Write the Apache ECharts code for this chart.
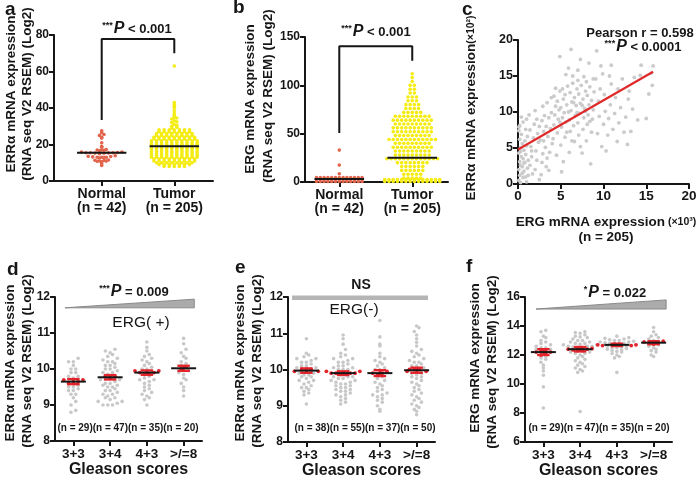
<!DOCTYPE html>
<html>
<head>
<meta charset="utf-8">
<script src="https://cdn.jsdelivr.net/npm/echarts@6.0.0/dist/echarts.min.js"></script>
<style>html,body{margin:0;padding:0;background:#fff;}#chart{width:700px;height:480px;}</style>
</head>
<body>
<div id="chart"></div>
<script>
// ---------------- DATA ----------------
const catsAB = ['Normal', 'Tumor'];
const nAB = ['(n = 42)', '(n = 205)'];

// Panel a: ERRα mRNA (Normal vs Tumor)
const aNormal = [27.5, 26.5, 25.5, 25, 24, 23.5, 21, 19, 18.5,
  17, 17, 17.2, 16.8, 16.6,
  15.5, 15.5, 15.5, 15.8, 15.2, 15.4, 15.6, 15.0, 15.9, 15.3,
  13, 13, 13, 13.5, 13.2, 12.8, 12.6, 13.4, 13.8,
  11, 11.2, 10.8, 11.5, 10.5, 11.4, 10.9,
  9.5, 8.5];
const aTumor = [63, 43, 42, 41, 40, 38.5, 37, 36, 35, 34.5, 34, 33, 32.5, 32, 31, 30.5, 30, 29.5, 29,
  28, 28, 28, 28, 28, 28, 28,
  27, 27, 27, 27, 27, 27, 27,
  26, 26, 26, 26, 26, 26, 26, 26,
  25, 25, 25, 25, 25, 25, 25, 25,
  24, 24, 24, 24, 24, 24, 24, 24, 24,
  23, 23, 23, 23, 23, 23, 23, 23, 23,
  22, 22, 22, 22, 22, 22, 22, 22, 22, 22,
  21, 21, 21, 21, 21, 21, 21, 21, 21, 21,
  20, 20, 20, 20, 20, 20, 20, 20, 20, 20,
  19, 19, 19, 19, 19, 19, 19, 19, 19, 19,
  18, 18, 18, 18, 18, 18, 18, 18, 18, 18,
  17, 17, 17, 17, 17, 17, 17, 17, 17, 17,
  16, 16, 16, 16, 16, 16, 16, 16, 16, 16,
  15, 15, 15, 15, 15, 15, 15, 15, 15, 15,
  14, 14, 14, 14, 14, 14, 14, 14, 14, 14,
  13, 13, 13, 13, 13, 13, 13, 13, 13, 13,
  12, 12, 12, 12, 12, 12, 12, 12, 12,
  11, 11, 11, 11, 11, 11, 11, 11, 11,
  10, 10, 10, 10, 10, 10, 10, 10,
  9, 9, 9, 9, 9, 9, 9,
  8, 8, 8, 8, 8];
const aMeans = [15.5, 19];
const aBracket = [[0, 33.4], [0, 77.8], [1, 77.8], [1, 70]];

// Panel b: ERG mRNA (Normal vs Tumor)
const bNormal = [33, 17.5, 8.5,
  4.5, 4.5, 4.5, 4.5, 4.5, 4.5, 4.5, 4.5, 4.5, 4.5, 4.5, 4.5, 4.5,
  2.5, 2.5, 2.5, 2.5, 2.5, 2.5, 2.5, 2.5, 2.5, 2.5, 2.5, 2.5, 2.5,
  0.5, 0.5, 0.5, 0.5, 0.5, 0.5, 0.5, 0.5, 0.5, 0.5, 0.5, 0.5, 0.5];
const bTumor = [112, 108, 104, 100, 100, 96, 96, 92, 92, 88, 88, 88, 84, 84, 84,
  80, 80, 80, 80, 76, 76, 76, 76, 72, 72, 72, 72, 72,
  68, 68, 68, 68, 68, 68, 68, 68, 68,
  64, 64, 64, 64, 64, 64, 64, 64, 64, 64,
  60, 60, 60, 60, 60, 60, 60, 60, 60,
  56, 56, 56, 56, 56, 56, 56, 56, 56, 56,
  52, 52, 52, 52, 52, 52, 52, 52, 52, 52,
  48, 48, 48, 48, 48, 48, 48, 48, 48,
  44, 44, 44, 44, 44, 44, 44, 44, 44, 44, 44, 44,
  40, 40, 40, 40, 40, 40, 40, 40, 40,
  36, 36, 36, 36, 36, 36, 36, 36, 36, 36,
  32, 32, 32, 32, 32, 32, 32, 32, 32,
  28, 28, 28, 28, 28, 28, 28, 28, 28,
  24, 24, 24, 24, 24, 24, 24, 24, 24, 24, 24, 24, 24,
  20, 20, 20, 20, 20, 20, 20, 20,
  16, 16, 16, 16, 16, 16,
  12, 12, 12, 12, 12, 12,
  8, 8, 8, 8, 8,
  4, 4, 4, 4, 4,
  2.5, 2.5, 2.5, 2.5, 2.5, 2.5, 2.5, 2.5, 2.5, 2.5, 2.5, 2.5, 2.5, 2.5,
  0.5, 0.5, 0.5, 0.5, 0.5, 0.5, 0.5, 0.5, 0.5, 0.5, 0.5, 0.5, 0.5, 0.5];
const bMeans = [3, 25];
const bBracket = [[0, 50.7], [0, 140.5], [1, 140.5], [1, 125.4]];

// Panel c: correlation (ERG ×10³ vs ERRα ×10²)
const cERG = [0.1,0.2,0.1,0.3,0.2,0.4,0.1,0.3,0.5,0.2,0.4,0.1,0.6,0.7,0.5,0.8,0.6,0.9,0.7,1.0,0.8,1.1,0.9,1.2,1.1,1.2,1.0,0.3,0.5,0.2,0.6,0.4,0.1,0.3,0.7,0.9,
  1.4,1.6,1.5,1.8,1.4,1.9,2.0,2.2,2.1,2.4,2.3,2.5,2.2,2.7,2.8,2.9,2.6,3.0,2.8,3.1,3.3,3.4,3.2,3.5,3.3,3.6,3.7,3.8,3.9,1.7,2.5,3.6,4.0,1.3,1.0,2.0,2.9,3.4,3.0,1.6,
  4.1,4.2,4.3,4.4,4.2,4.6,4.7,4.8,4.6,4.9,5.0,5.1,5.2,5.0,5.3,5.2,5.5,5.6,5.4,5.7,5.5,5.8,6.0,6.1,6.0,6.2,6.3,6.1,6.4,6.6,6.5,6.7,6.8,6.6,6.9,7.1,7.0,7.2,7.3,7.1,7.4,7.5,7.6,7.7,7.8,7.6,7.9,8.0,8.1,8.2,8.3,8.1,8.4,8.5,8.6,8.7,8.8,8.6,8.9,4.5,5.3,5.1,6.3,7.3,7.9,6.9,5.9,4.9,8.4,6.5,7.5,5.7,4.4,3.9,7.0,
  6.2,4.9,7.3,8.3,9.2,9.7,7.0,5.6,6.4,8.8,8.0,10.9,5.9,7.7,
  9.3,9.5,9.4,9.6,9.8,10.0,10.2,10.1,10.3,10.5,10.6,10.8,10.9,11.1,11.3,11.4,11.6,11.8,12.0,12.2,12.4,12.6,12.9,13.2,13.4,13.6,14.0,14.3,14.4,15.0,15.3,15.6,15.7,15.8,9.1,11.7,12.8,10.7,13.0,9.9];
const cERRa = [0.5,1.2,2.0,2.6,3.1,3.8,4.3,5.0,5.6,6.2,6.9,7.4,0.9,1.8,2.4,3.0,3.5,4.1,4.7,5.3,6.0,6.6,7.6,1.2,2.2,3.3,0.3,0.2,1.5,8.1,8.6,9.3,7.9,4.5,2.9,1.0,
  2.6,3.8,5.2,6.4,7.5,8.3,2.0,3.3,4.6,5.8,7.0,8.0,9.0,1.3,3.0,4.2,6.1,7.3,8.8,9.5,2.4,3.6,5.1,6.6,8.0,9.2,4.4,7.7,9.9,1.4,0.6,1.9,5.6,9.6,9.0,10.2,10.8,11.3,6.0,4.6,
  6.3,8.2,9.6,10.8,12.2,7.1,9.0,10.3,11.5,12.9,5.4,7.9,9.2,10.6,11.8,13.2,6.5,8.6,9.9,11.0,12.4,13.6,4.4,7.3,8.9,10.2,11.4,12.7,14.0,5.9,8.1,9.5,10.9,12.0,13.2,6.8,8.5,9.8,11.2,12.5,13.7,4.3,7.6,9.2,10.5,11.8,12.9,6.0,8.3,9.6,11.0,12.3,13.5,2.8,7.2,9.0,10.3,11.6,12.8,4.0,3.1,1.7,6.0,5.2,10.1,9.9,10.0,8.6,8.7,11.3,10.9,7.2,13.3,12.0,14.4,
  18.7,17.7,17.3,16.8,18.5,16.4,15.8,15.2,15.0,14.6,14.2,16.5,16.1,14.9,
  7.0,9.4,11.5,13.2,5.2,8.3,10.1,12.4,4.6,6.8,9.1,11.0,13.9,7.6,9.8,12.0,5.9,8.5,10.6,14.6,7.2,9.3,11.8,7.3,10.4,14.8,8.9,15.1,16.5,9.1,12.5,15.4,13.7,16.4,14.6,13.2,5.5,15.0,12.9,15.3];
const cFit = [[0, 4.8], [15.8, 15.6]];

// Panels d, e, f: Gleason score groups
const gleason = ['3+3', '3+4', '4+3', '>/=8'];
const dNs = '(n = 29)(n = 47)(n = 35)(n = 20)';
const eNs = '(n = 38)(n = 55)(n = 37)(n = 50)';
const fNs = '(n = 29)(n = 47)(n = 35)(n = 20)';

// d: ERRα, ERG(+)
const d33 = [10.3,10.2,10.2,10.1,10.0,10.0,9.9,9.9,9.8,9.8,9.75,9.7,9.7,9.65,9.6,9.6,9.55,9.5,9.5,9.45,9.4,9.4,9.3,9.3,9.2,9.1,9.0,8.85,8.8];
const d34 = [10.55,10.5,10.45,10.4,10.35,10.3,10.25,10.2,10.2,10.15,10.1,10.1,10.05,10.0,10.0,9.95,9.9,9.9,9.85,9.8,9.8,9.75,9.7,9.7,9.65,9.6,9.6,9.55,9.5,9.5,9.45,9.4,9.4,9.35,9.3,9.3,9.25,9.2,9.2,9.15,9.1,9.1,9.05,9.0,9.0,9.0,9.55];
const d43 = [10.75,10.6,10.5,10.4,10.35,10.3,10.25,10.2,10.15,10.1,10.05,10.0,10.0,9.95,9.9,9.9,9.85,9.85,9.8,9.75,9.7,9.7,9.65,9.6,9.55,9.5,9.45,9.4,9.35,9.3,9.25,9.2,9.15,9.0,9.95];
const d8 = [10.85,10.7,10.55,10.45,10.35,10.3,10.2,10.15,10.1,10.05,10.0,9.95,9.9,9.85,9.75,9.7,9.6,9.5,9.4,9.25];
const dMeans = [9.65, 9.77, 9.9, 10.02];
const dSem = [0.07, 0.06, 0.06, 0.07];
const dWedge = [[-0.23, 11.7], [3.29, 11.94], [3.29, 11.7]];

// e: ERRα, ERG(-)
const e33 = [10.85,10.45,10.4,10.35,10.3,10.3,10.25,10.2,10.2,10.15,10.1,10.1,10.05,10.05,10.0,10.0,10.0,9.95,9.95,9.9,9.9,9.85,9.85,9.8,9.8,9.75,9.7,9.7,9.65,9.6,9.55,9.5,9.5,9.45,9.4,9.35,9.3,9.05];
const e34 = [10.95,10.85,10.7,10.55,10.45,10.4,10.35,10.3,10.3,10.25,10.2,10.2,10.15,10.1,10.1,10.05,10.05,10.0,10.0,10.0,9.95,9.95,9.9,9.9,9.9,9.85,9.85,9.8,9.8,9.8,9.75,9.75,9.7,9.7,9.65,9.65,9.6,9.6,9.55,9.55,9.5,9.5,9.45,9.45,9.4,9.4,9.35,9.3,9.3,9.25,9.2,9.15,9.1,9.05,9.9];
const e43 = [11.35,10.9,10.7,10.65,10.45,10.35,10.3,10.25,10.2,10.15,10.1,10.05,10.0,10.0,9.95,9.9,9.9,9.85,9.8,9.75,9.7,9.65,9.6,9.55,9.5,9.45,9.4,9.35,9.3,9.3,9.25,9.2,9.15,9.1,9.0,8.9,8.85];
const e8 = [11.2,11.15,11.05,10.95,10.85,10.75,10.65,10.55,10.5,10.45,10.4,10.35,10.3,10.25,10.2,10.2,10.15,10.1,10.1,10.05,10.0,10.0,9.95,9.95,9.9,9.9,9.85,9.8,9.8,9.75,9.7,9.65,9.6,9.55,9.5,9.45,9.4,9.35,9.3,9.25,9.2,9.15,9.1,9.05,9.0,8.95,8.9,8.85,8.75,10.0];
const eMeans = [9.97, 9.9, 9.9, 9.98];
const eSem = [0.06, 0.05, 0.08, 0.07];
const eBar = [[-0.39, 11.98], [3.31, 11.98]];

// f: ERG mRNA
const f33 = [13.7,13.6,13.3,13.2,13.0,12.9,12.8,12.7,12.6,12.5,12.4,12.4,12.3,12.3,12.2,12.2,12.1,12.0,11.9,11.8,11.7,11.5,11.3,11.1,10.9,10.6,9.8,8.35,12.5];
const f34 = [13.6,13.55,13.5,13.4,13.3,13.25,13.2,13.1,13.0,13.0,12.9,12.9,12.8,12.8,12.75,12.7,12.7,12.6,12.6,12.55,12.5,12.5,12.45,12.4,12.4,12.35,12.3,12.3,12.2,12.2,12.1,12.1,12.0,11.9,11.8,11.7,11.6,11.5,11.4,11.3,11.2,11.1,11.0,10.9,10.8,8.1,12.6];
const f43 = [13.3,13.2,13.15,13.1,13.05,13.0,13.0,12.95,12.9,12.9,12.85,12.8,12.8,12.75,12.7,12.7,12.65,12.6,12.6,12.55,12.5,12.5,12.45,12.4,12.35,12.3,12.25,12.2,12.1,12.0,11.9,11.8,10.8,12.75,12.65];
const f8 = [13.9,13.6,13.4,13.3,13.2,13.1,13.0,12.95,12.9,12.85,12.8,12.75,12.7,12.6,12.5,12.4,12.3,12.2,12.0,11.9];
const fMeans = [12.2, 12.4, 12.7, 12.85];
const fSem = [0.2, 0.15, 0.08, 0.1];
const fWedge = [[-0.2, 15.17], [3.34, 15.8], [3.34, 15.17]];

// ---------------- LAYOUT HELPERS ----------------
const FONT = "'Liberation Sans', Arial, Helvetica, sans-serif";
const INK = '#161616';
const RED = '#e3242b';

// Beeswarm layout: bin values by height, spread each bin sideways around the category.
function swarm(vals, cat, bin, dx) {
  const sorted = vals.slice().sort((a, b) => a - b);
  const bins = new Map();
  sorted.forEach(v => {
    const k = Math.floor(v / bin + 1e-9);
    if (!bins.has(k)) bins.set(k, []);
    bins.get(k).push(v);
  });
  const out = [];
  bins.forEach(arr => {
    const n = arr.length;
    const slots = [];
    for (let j = 0; j < n; j++) slots.push(j - (n - 1) / 2);
    slots.sort((p, q) => Math.abs(p) - Math.abs(q) || p - q);
    arr.forEach((v, j) => out.push([cat + slots[j] * dx, v]));
  });
  return out;
}

const grids = [
  {left: 54, top: 35, width: 159, height: 146},
  {left: 305, top: 37, width: 143, height: 145},
  {left: 518, top: 40, width: 171, height: 144},
  {left: 55, top: 297, width: 147, height: 144},
  {left: 288, top: 297, width: 147, height: 145},
  {left: 525, top: 297, width: 147, height: 145}
];

function catX(gi, min, max, fmt, fontSize, margin, lineHeight, name) {
  const vals = [];
  for (let i = Math.ceil(min); i <= Math.floor(max); i++) vals.push(i);
  const ax = {
    gridIndex: gi, type: 'value', min: min, max: max,
    axisLine: {show: true, onZero: false, lineStyle: {color: INK, width: 2}},
    axisTick: {show: true, customValues: vals, length: 5, lineStyle: {color: INK, width: 2}},
    axisLabel: {show: true, customValues: vals, formatter: fmt, color: INK, fontFamily: FONT,
      fontWeight: 'bold', fontSize: fontSize, margin: margin, lineHeight: lineHeight},
    splitLine: {show: false}
  };
  if (name) {
    ax.name = name; ax.nameLocation = 'middle'; ax.nameGap = 21;
    ax.nameTextStyle = {color: INK, fontFamily: FONT, fontWeight: 'bold', fontSize: 16};
  }
  return ax;
}
function yAx(gi, min, max, interval, fs) {
  return {
    gridIndex: gi, type: 'value', min: min, max: max, interval: interval,
    axisLine: {show: true, onZero: false, lineStyle: {color: INK, width: 2}},
    axisTick: {show: true, length: 5, lineStyle: {color: INK, width: 2}},
    axisLabel: {color: INK, fontFamily: FONT, fontWeight: 'bold', fontSize: fs || 12, margin: 5},
    splitLine: {show: false}
  };
}
function dots(gi, pts, color, size, z) {
  return {type: 'scatter', xAxisIndex: gi, yAxisIndex: gi, data: pts, symbolSize: size,
    itemStyle: {color: color, opacity: 1}, silent: true, z: z || 2};
}
function meanLines(gi, means, half) {
  return {type: 'custom', xAxisIndex: gi, yAxisIndex: gi, z: 6, silent: true,
    data: means.map((m, i) => [i, m]),
    renderItem: (params, api) => {
      const i = api.value(0), m = api.value(1);
      const p1 = api.coord([i - half, m]), p2 = api.coord([i + half, m]);
      return {type: 'line', shape: {x1: p1[0], y1: p1[1], x2: p2[0], y2: p2[1]},
        style: {stroke: INK, lineWidth: 2}};
    }};
}
// red mean ± SEM bars with caps
function errBars(gi, means, sems, capHalf) {
  return {type: 'custom', xAxisIndex: gi, yAxisIndex: gi, z: 5, silent: true,
    data: means.map((m, i) => [i, m, sems[i]]),
    renderItem: (params, api) => {
      const i = api.value(0), m = api.value(1), s = api.value(2);
      const top = api.coord([i, m + s]), bot = api.coord([i, m - s]);
      const tl = api.coord([i - capHalf, m + s]), tr = api.coord([i + capHalf, m + s]);
      const bl = api.coord([i - capHalf, m - s]), br = api.coord([i + capHalf, m - s]);
      const st = {stroke: RED, lineWidth: 2.4};
      return {type: 'group', children: [
        {type: 'line', shape: {x1: top[0], y1: top[1], x2: bot[0], y2: bot[1]}, style: st},
        {type: 'line', shape: {x1: tl[0], y1: tl[1], x2: tr[0], y2: tr[1]}, style: st},
        {type: 'line', shape: {x1: bl[0], y1: bl[1], x2: br[0], y2: br[1]}, style: st}
      ]};
    }};
}
function polyLine(gi, pts, color, width, z) {
  return {type: 'line', xAxisIndex: gi, yAxisIndex: gi, data: pts, symbol: 'none', silent: true,
    lineStyle: {color: color, width: width}, z: z || 4, animation: false};
}
function wedge(gi, pts) {
  return {type: 'custom', xAxisIndex: gi, yAxisIndex: gi, z: 4, silent: true,
    data: [pts[0]],
    renderItem: (params, api) => ({type: 'polygon', shape: {points: pts.map(p => api.coord(p))},
      style: {fill: '#ababab', stroke: '#8a8a8a', lineWidth: 1}})};
}
// gleason groups: gray dots, with dots lying within mean ± SEM in red
function groupSeries(gi, groups, means, sems, bin, dx) {
  const gray = [], red = [];
  groups.forEach((g, i) => {
    swarm(g, i, bin, dx).forEach(p => {
      if (Math.abs(p[1] - means[i]) <= sems[i]) red.push(p); else gray.push(p);
    });
  });
  return [dots(gi, gray, '#c8c8c8', 3.6, 2), dots(gi, red, RED, 3.8, 3), errBars(gi, means, sems, 0.17)];
}

const abFmt = v => catsAB[Math.round(v)] + '\n' + nAB[Math.round(v)];
const gFmt = v => gleason[Math.round(v)];

const series = [
  dots(0, swarm(aNormal, 0, 1, 0.062), '#e2654d', 3.6),
  dots(0, swarm(aTumor, 1, 1, 0.07), '#f4ec12', 3.6),
  meanLines(0, aMeans, 0.34),
  polyLine(0, aBracket, INK, 2),
  dots(1, swarm(bNormal, 0, 2, 0.052), '#e2654d', 3.6),
  dots(1, swarm(bTumor, 1, 2, 0.058), '#f4ec12', 3.6),
  meanLines(1, bMeans, 0.34),
  polyLine(1, bBracket, INK, 2),
  dots(2, cERG.map((x, i) => [x, cERRa[i]]), '#cbcbcb', 3.8),
  polyLine(2, cFit, '#e02a2a', 2.2, 5),
  ...groupSeries(3, [d33, d34, d43, d8], dMeans, dSem, 0.12, 0.13),
  meanLines(3, dMeans, 0.34),
  wedge(3, dWedge),
  ...groupSeries(4, [e33, e34, e43, e8], eMeans, eSem, 0.12, 0.13),
  meanLines(4, eMeans, 0.34),
  polyLine(4, eBar, '#b5b5b5', 4.5, 4),
  ...groupSeries(5, [f33, f34, f43, f8], fMeans, fSem, 0.25, 0.13),
  meanLines(5, fMeans, 0.34),
  wedge(5, fWedge)
];

// ---------------- TEXT ----------------
function txt(x, y, text, opt) {
  opt = opt || {};
  return {type: 'text', x: x, y: y, rotation: opt.rot || 0, z: 10, silent: true,
    style: Object.assign({text: text, fill: INK, fontFamily: FONT, fontWeight: opt.weight || 'bold',
      fontSize: opt.size || 13.5, textAlign: opt.align || 'center', textVerticalAlign: opt.valign || 'middle'},
      opt.rich ? {rich: opt.rich} : {})};
}
const R90 = Math.PI / 2;
const pRich = {
  s: {fontFamily: FONT, fontWeight: 'bold', fontSize: 9, fill: INK, verticalAlign: 'top', padding: [0, 1, 0, 0]},
  p: {fontFamily: FONT, fontWeight: 'bold', fontStyle: 'italic', fontSize: 16, fill: INK},
  t: {fontFamily: FONT, fontWeight: 'bold', fontSize: 13, fill: INK}
};
const supRich = {
  t: {fontFamily: FONT, fontWeight: 'bold', fontSize: 13.5, fill: INK},
  s: {fontFamily: FONT, fontWeight: 'bold', fontSize: 10.5, fill: INK}
};

const graphic = [
  txt(5, 19, 'a', {size: 19, align: 'left', valign: 'bottom'}),
  txt(233, 17, 'b', {size: 19, align: 'left', valign: 'bottom'}),
  txt(462, 19, 'c', {size: 19, align: 'left', valign: 'bottom'}),
  txt(7, 279, 'd', {size: 19, align: 'left', valign: 'bottom'}),
  txt(235, 277, 'e', {size: 19, align: 'left', valign: 'bottom'}),
  txt(466, 276, 'f', {size: 19, align: 'left', valign: 'bottom'}),
  txt(11, 94, 'ERRα mRNA expression', {rot: R90}),
  txt(27, 94, '(RNA seq V2 RSEM) (Log2)', {rot: R90}),
  txt(250, 99, 'ERG mRNA expression', {rot: R90}),
  txt(268, 96, '(RNA seq V2 RSEM) (Log2)', {rot: R90}),
  txt(471, 108, '{t|ERRα mRNA expression}{s|(×10²)}', {rot: R90, rich: supRich}),
  txt(10, 363, 'ERRα mRNA expression', {rot: R90}),
  txt(27, 361, '(RNA seq V2 RSEM) (Log2)', {rot: R90}),
  txt(240, 363, 'ERRα mRNA expression', {rot: R90}),
  txt(257, 361, '(RNA seq V2 RSEM) (Log2)', {rot: R90}),
  txt(475, 358, 'ERG mRNA expression', {rot: R90}),
  txt(492, 362, '(RNA seq V2 RSEM) (Log2)', {rot: R90}),
  txt(606, 222, '{t|ERG mRNA expression}{s| (×10³)}', {rich: supRich}),
  txt(606, 237, '(n = 205)', {size: 13.5}),
  txt(137, 29, '{s|***}{p|P}{t| < 0.001}', {rich: pRich}),
  txt(376, 32, '{s|***}{p|P}{t| < 0.001}', {rich: pRich}),
  txt(640, 33, 'Pearson r = 0.598', {size: 13}),
  txt(643, 47, '{s|***}{p|P}{t| < 0.0001}', {rich: pRich}),
  txt(134, 292, '{s|***}{p|P}{t| = 0.009}', {rich: pRich}),
  txt(361, 285, 'NS', {size: 14}),
  txt(615, 293, '{s|*}{p|P}{t| = 0.022}', {rich: pRich}),
  txt(141, 323, 'ERG( +)', {size: 15.5, weight: 'normal'}),
  txt(354, 310, 'ERG(-)', {size: 15.5, weight: 'normal'}),
  txt(128, 428, dNs, {size: 10}),
  txt(365, 428, eNs, {size: 10}),
  txt(599, 428, fNs, {size: 10})
];

const chart = echarts.init(document.getElementById('chart'), null, {renderer: 'canvas'});
chart.setOption({
  animation: false,
  backgroundColor: '#ffffff',
  grid: grids,
  xAxis: [
    catX(0, -0.657, 1.533, abFmt, 14, 6, 14),
    catX(1, -0.47, 1.49, abFmt, 14, 6, 14),
    {gridIndex: 2, type: 'value', min: 0, max: 20, interval: 5,
      axisLine: {show: true, onZero: false, lineStyle: {color: INK, width: 2}},
      axisTick: {show: true, length: 5, lineStyle: {color: INK, width: 2}},
      axisLabel: {color: INK, fontFamily: FONT, fontWeight: 'bold', fontSize: 13.5, margin: 5},
      splitLine: {show: false}},
    catX(3, -0.5, 3.5, gFmt, 13.5, 6, 14, 'Gleason scores'),
    catX(4, -0.5, 3.5, gFmt, 13.5, 6, 14, 'Gleason scores'),
    catX(5, -0.5, 3.5, gFmt, 13.5, 6, 14, 'Gleason scores')
  ],
  yAxis: [
    yAx(0, 0, 80, 20),
    yAx(1, 0, 150, 50),
    yAx(2, 0, 20, 5, 12.5),
    yAx(3, 8, 12, 1),
    yAx(4, 8, 12, 1),
    yAx(5, 6, 16, 2)
  ],
  series: series,
  graphic: graphic
});
</script>
</body>
</html>
